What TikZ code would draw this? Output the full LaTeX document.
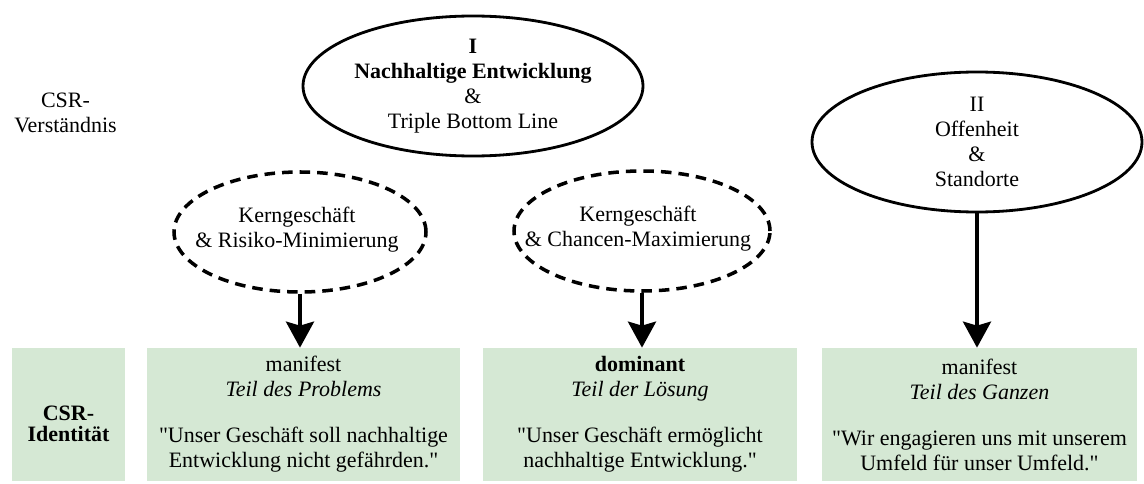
\documentclass[tikz,border=0pt]{standalone}
\usepackage{fontspec}
\setmainfont{Liberation Serif}[Ligatures=TeXOff]
\usetikzlibrary{shapes.geometric,arrows.meta,positioning}
\definecolor{boxgreen}{HTML}{D5E8D4}

\begin{document}
\begin{tikzpicture}[
    every node/.style={font=\fontsize{12.5}{14.2}\selectfont, align=center},
    oval/.style={ellipse, draw, line width=1.6pt, inner sep=0pt},
    dashoval/.style={oval, line width=2pt, dash pattern=on 6pt off 4pt},
    greenbox/.style={fill=boxgreen, minimum height=2.66cm, inner sep=0pt},
    pfeil/.style={line width=2.2pt, -{Stealth[length=0.52cm,width=0.56cm,inset=0.08cm]}}
]

    \useasboundingbox (0,0) rectangle (22.88,9.66);

    % obere Ebene: CSR-Verstaendnis
    \node (verstaendnis) at (1.31,7.41) {CSR-\\Verständnis};
    \node[oval, minimum width=6.8cm, minimum height=2.8cm] (nachhaltig) at (9.46,7.94)
        {\textbf{I}\\\textbf{Nachhaltige Entwicklung}\\\&\\Triple Bottom Line};
    \node[oval, minimum width=6.6cm, minimum height=2.8cm] (offenheit) at (19.54,6.82)
        {II\\Offenheit\\\&\\Standorte};

    \node[dashoval, minimum width=5.04cm, minimum height=2.4cm] (risiko) at (6.0,5.02) {};
    \node (risikotext) at ([xshift=-0.06cm,yshift=0.04cm]risiko.center)
        {Kerngeschäft\\\& Risiko-Minimierung};
    \node[dashoval, minimum width=5.12cm, minimum height=2.4cm] (chancen) at (12.84,5.04) {};
    \node (chancentext) at ([xshift=-0.08cm,yshift=0.04cm]chancen.center)
        {Kerngeschäft\\\& Chancen-Maximierung};

    % untere Ebene: CSR-Identitaet
    \node[greenbox, minimum width=2.26cm] (identitaet) at (1.37,1.37) {};
    \node[font=\fontsize{12.5}{12}\selectfont\bfseries] (identlabel)
        at ([yshift=-0.18cm]identitaet.center) {CSR-\\Identität};

    \node[greenbox, minimum width=6.26cm] (problem) at (6.07,1.37)
        {manifest\\\textit{Teil des Problems}\\[12pt]
         "Unser Geschäft soll nachhaltige\\Entwicklung nicht gefährden."};
    \node[greenbox, minimum width=6.28cm] (loesung) at (12.8,1.37)
        {\textbf{dominant}\\\textit{Teil der Lösung}\\[12pt]
         "Unser Geschäft ermöglicht\\nachhaltige Entwicklung."};
    \node[greenbox, minimum width=6.3cm] (ganzes) at (19.59,1.37)
        {manifest\\\textit{Teil des Ganzen}\\[12pt]
         "Wir engagieren uns mit unserem\\Umfeld für unser Umfeld."};

    \draw[pfeil] (risiko.south) -- (risiko.south |- problem.north);
    \draw[pfeil] (chancen.south) -- (chancen.south |- loesung.north);
    \draw[pfeil] (offenheit.south) -- (offenheit.south |- ganzes.north);

\end{tikzpicture}
\end{document}
